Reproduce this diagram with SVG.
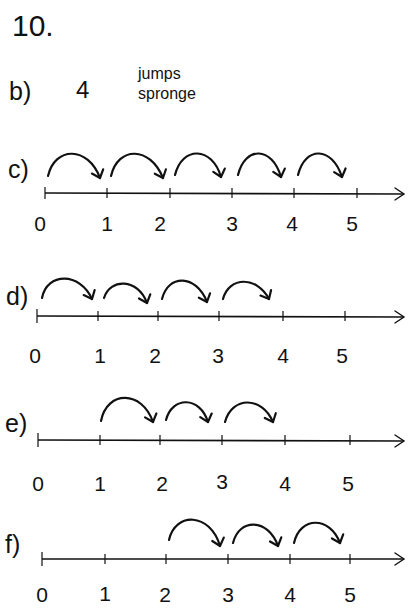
<svg xmlns="http://www.w3.org/2000/svg" width="409" height="608" viewBox="0 0 409 608">
<style>
text{font-family:"Liberation Sans","DejaVu Sans",sans-serif;fill:#111}
.lbl{font-size:21px;text-anchor:middle}
.part{font-size:25px}
.axis{stroke:#111;stroke-width:1.6;fill:none}
.tick{stroke:#111;stroke-width:1.2}
.jump{stroke:#111;stroke-width:2.2;fill:none;stroke-linecap:round;marker-end:url(#ah)}
</style>
<defs>
<marker id="ah" viewBox="-10 -8 12 16" markerWidth="12" markerHeight="16" refX="0" refY="0" orient="auto" markerUnits="userSpaceOnUse">
<path d="M-7,-6 L0,0 L-7,6" fill="none" stroke="#111" stroke-width="2.2" stroke-linecap="round" stroke-linejoin="round"/>
</marker>
<marker id="ax" viewBox="-12 -8 14 16" markerWidth="14" markerHeight="16" refX="0" refY="0" orient="auto" markerUnits="userSpaceOnUse">
<path d="M-9,-6 L0,0 L-9,6" fill="none" stroke="#111" stroke-width="1.4" stroke-linecap="round"/>
</marker>
</defs>

<g id="header">
<text x="12" y="36" style="font-size:30px">10.</text>
<text x="9" y="100" class="part">b)</text>
<text x="76" y="98" style="font-size:24px">4</text>
<text x="138" y="79" style="font-size:16px">jumps</text>
<text x="138" y="99" style="font-size:16px">spronge</text>
</g>

<g id="line-c">
<text x="8" y="178" class="part">c)</text>
<path class="axis" d="M45,193 L404,194" marker-end="url(#ax)"/>
<path class="tick" d="M45,187V199M107,188V198M170,188V198M232,188V198M294,188V198M357,188V198"/>
<text x="40" y="231" class="lbl">0</text>
<text x="107" y="231" class="lbl">1</text>
<text x="160" y="231" class="lbl">2</text>
<text x="232" y="231" class="lbl">3</text>
<text x="292" y="231" class="lbl">4</text>
<text x="352" y="231" class="lbl">5</text>
<g id="jumps-c">
<path class="jump" d="M48,176 C55,146 88,146 100,178"/>
<path class="jump" d="M111,176 C118,146 150,146 163,178"/>
<path class="jump" d="M175,175 C182,146 212,146 221,177"/>
<path class="jump" d="M238,175 C245,146 272,146 281,177"/>
<path class="jump" d="M298,175 C305,146 332,146 342,177"/>
</g>
</g>

<g id="line-d">
<text x="6" y="305" class="part">d)</text>
<path class="axis" d="M37,316 L404,317" marker-end="url(#ax)"/>
<path class="tick" d="M37,309V323M98,311V321M158,311V321M219,311V321M283,311V321M345,311V321"/>
<text x="35" y="363" class="lbl">0</text>
<text x="100" y="363" class="lbl">1</text>
<text x="155" y="363" class="lbl">2</text>
<text x="218" y="363" class="lbl">3</text>
<text x="283" y="363" class="lbl">4</text>
<text x="342" y="363" class="lbl">5</text>
<g id="jumps-d">
<path class="jump" d="M42,298 C47,272 80,272 92,299"/>
<path class="jump" d="M104,298 C110,278 138,278 147,303"/>
<path class="jump" d="M162,299 C168,274 196,274 207,302"/>
<path class="jump" d="M223,299 C229,276 257,276 269,299"/>
</g>
</g>

<g id="line-e">
<text x="5" y="432" class="part">e)</text>
<path class="axis" d="M38,440 L404,441" marker-end="url(#ax)"/>
<path class="tick" d="M38,433V447M100,435V445M160,435V445M222,435V445M285,435V445M350,435V445"/>
<text x="38" y="491" class="lbl">0</text>
<text x="100" y="491" class="lbl">1</text>
<text x="162" y="491" class="lbl">2</text>
<text x="222" y="489" class="lbl">3</text>
<text x="285" y="491" class="lbl">4</text>
<text x="348" y="491" class="lbl">5</text>
<g id="jumps-e">
<path class="jump" d="M101,421 C107,390 142,390 153,422"/>
<path class="jump" d="M166,420 C172,396 200,396 208,422"/>
<path class="jump" d="M225,422 C232,396 262,396 273,422"/>
</g>
</g>

<g id="line-f">
<text x="5" y="553" class="part">f)</text>
<path class="axis" d="M42,559 L404,559" marker-end="url(#ax)"/>
<path class="tick" d="M42,552V566M105,554V564M166,554V564M228,554V564M290,554V564M350,554V564"/>
<text x="42" y="602" class="lbl">0</text>
<text x="105" y="601" class="lbl">1</text>
<text x="165" y="602" class="lbl">2</text>
<text x="228" y="602" class="lbl">3</text>
<text x="290" y="602" class="lbl">4</text>
<text x="350" y="602" class="lbl">5</text>
<g id="jumps-f">
<path class="jump" d="M169,540 C175,512 210,512 220,546"/>
<path class="jump" d="M233,543 C239,518 268,518 278,546"/>
<path class="jump" d="M294,543 C300,516 330,516 340,543"/>
</g>
</g>
</svg>
